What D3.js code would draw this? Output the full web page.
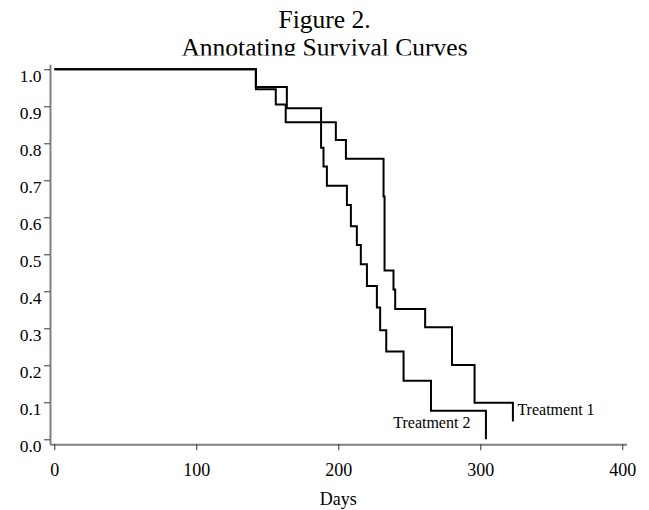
<!DOCTYPE html>
<meta charset="utf-8">
<style>

body {
  margin: 0;
  background: #fff;
}

text {
  font-family: 'Liberation Serif', 'Times New Roman', serif;
  fill: #000;
}

.axis .domain {
  stroke: #808080;
  stroke-width: 2;
}

.axis .tick line {
  stroke: #333;
  stroke-width: 1;
}

.curve {
  fill: none;
  stroke: #000;
  stroke-width: 2;
}

</style>
<body>
<svg width="649" height="510"></svg>

<script src="https://d3js.org/d3.v7.min.js"></script>
<script>

//Kaplan-Meier steps (day of drop, survival after the drop)
var t1Days = [0, 142, 156, 163, 198.3, 205.4, 231.9, 232.6, 238.9, 240.1, 261.2, 280.1, 296, 323];
var t1Surv = [1.0, 0.946, 0.905, 0.857, 0.809, 0.758, 0.656, 0.456, 0.405, 0.352, 0.303, 0.201, 0.099, 0.048];

var t2Days = [0, 142, 163.8, 187.9, 189.6, 192, 206.1, 208.9, 213.1, 215.9, 220.2, 227.2, 229.5, 233.8, 246, 265.3, 304];
var t2Surv = [1.0, 0.952, 0.895, 0.788, 0.737, 0.685, 0.633, 0.576, 0.525, 0.473, 0.414, 0.356, 0.295, 0.237, 0.158, 0.077, 0.0];

var xTicks = [0, 100, 200, 300, 400];
var yTicks = [0, 0.1, 0.2, 0.3, 0.4, 0.5, 0.6, 0.7, 0.8, 0.9, 1.0];

var titleLines = ["Figure 2.", "Annotating Survival Curves"];
var xTitle = "Days";
var labels = [
  {name: "Treatment 1", day: 323, surv: 0.099},
  {name: "Treatment 2", day: 304, surv: 0.077}
];

var svg = d3.select("svg"),
    width = +svg.attr("width"),
    height = +svg.attr("height");

//axes stick out a little past 0 and 400 / 0.0 and 1.0
var x = d3.scaleLinear()
    .domain([-3, 403])
    .range([50, 626.5]);

var y = d3.scaleLinear()
    .domain([-0.0135, 1.0135])
    .range([444.3, 64.3]);

//title, second line gets cut off at its baseline like in the original
svg.append("clipPath")
    .attr("id", "titleclip")
  .append("rect")
    .attr("x", 0)
    .attr("y", 0)
    .attr("width", width)
    .attr("height", 55.5);

svg.append("g")
    .attr("clip-path", "url(#titleclip)")
    .selectAll("text")
    .data(titleLines)
  .enter().append("text")
    .attr("x", width / 2)
    .attr("y", function(d, i) { return 28 + i * 27.5; })
    .attr("text-anchor", "middle")
    .style("font-size", "25.5px")
    .text(function(d) { return d; });

//y axis, labels hang just under their tick
var yAxis = svg.append("g")
    .attr("class", "axis")
    .attr("transform", "translate(" + x.range()[0] + ",0)")
    .call(d3.axisLeft(y)
      .tickValues(yTicks)
      .tickSize(6)
      .tickSizeOuter(0)
      .tickPadding(2.5)
      .tickFormat(d3.format(".1f")));

yAxis.selectAll(".tick text")
    .attr("dy", 12)
    .style("font-size", "17.5px")
    .style("font-family", "'Liberation Serif', serif");

//x axis
var xAxis = svg.append("g")
    .attr("class", "axis")
    .attr("transform", "translate(0," + y.range()[0] + ")")
    .call(d3.axisBottom(x)
      .tickValues(xTicks)
      .tickSize(6)
      .tickSizeOuter(0));

xAxis.selectAll(".tick text")
    .attr("y", 32)
    .attr("dy", 0)
    .style("font-size", "18px")
    .style("font-family", "'Liberation Serif', serif");

svg.append("text")
    .attr("x", (x.range()[0] + x.range()[1]) / 2)
    .attr("y", 505)
    .attr("text-anchor", "middle")
    .style("font-size", "18px")
    .text(xTitle);

//step curves
var line = d3.line()
    .x(function(d) { return x(d[0]); })
    .y(function(d) { return y(d[1]); })
    .curve(d3.curveStepAfter);

svg.append("path")
    .attr("class", "curve")
    .attr("d", line(d3.zip(t1Days, t1Surv)));

svg.append("path")
    .attr("class", "curve")
    .attr("d", line(d3.zip(t2Days, t2Surv)));

//curve annotations
svg.append("text")
    .attr("x", x(labels[0].day) + 4.5)
    .attr("y", y(labels[0].surv) + 12.5)
    .style("font-size", "16px")
    .text(labels[0].name);

svg.append("text")
    .attr("x", x(labels[1].day) - 15.5)
    .attr("y", y(labels[1].surv) + 17.5)
    .attr("text-anchor", "end")
    .style("font-size", "16px")
    .text(labels[1].name);

</script>
</body>
